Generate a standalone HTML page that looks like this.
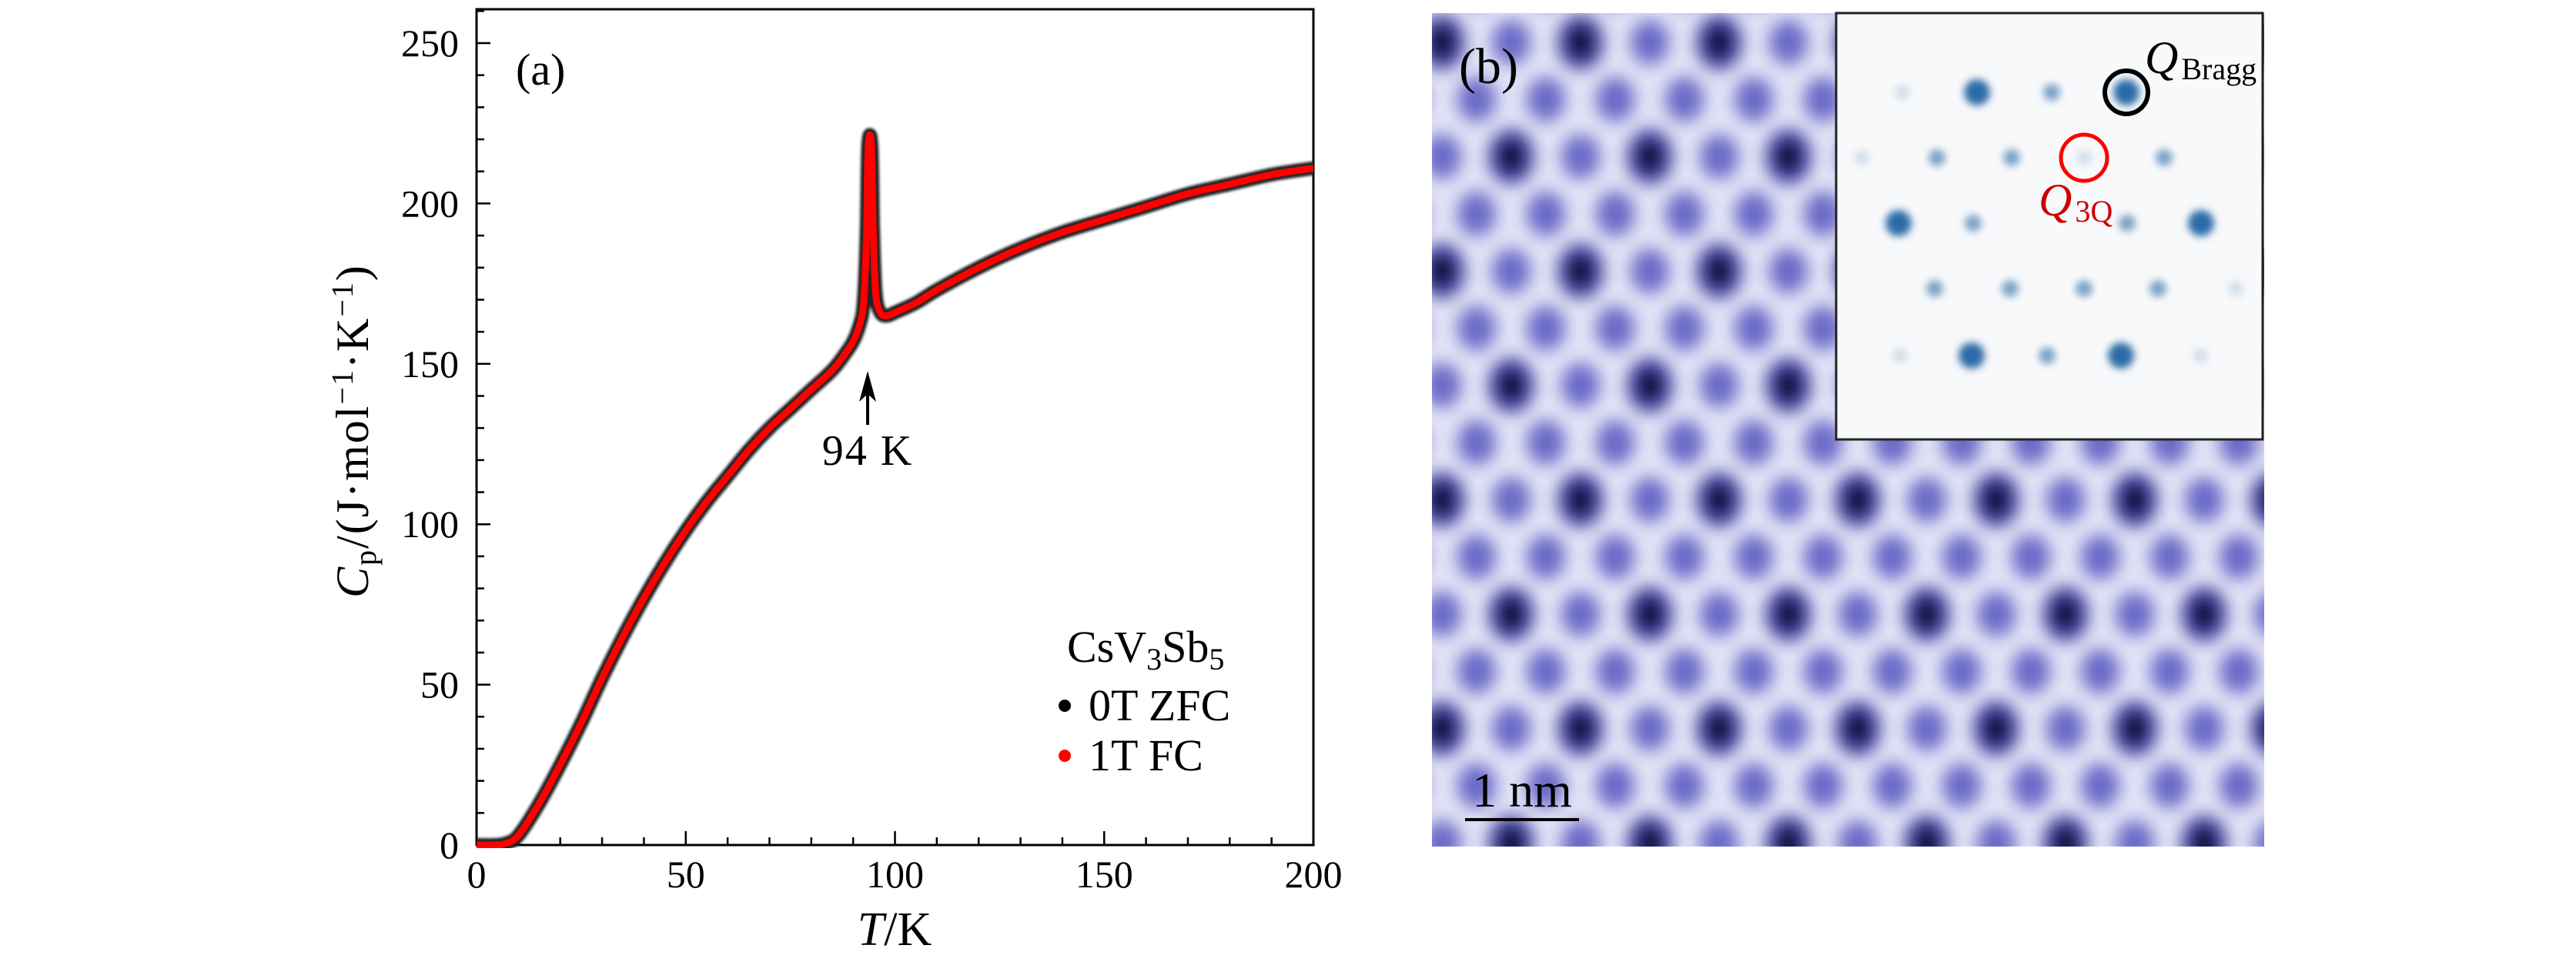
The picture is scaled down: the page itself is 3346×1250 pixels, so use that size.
<!DOCTYPE html>
<html><head><meta charset="utf-8"><style>
html,body{margin:0;padding:0;background:#fff;}
svg{display:block;font-family:"Liberation Serif",serif;}
</style></head><body>
<svg id="fig" width="3346" height="1250" viewBox="0 0 3346 1250" xmlns="http://www.w3.org/2000/svg">
<defs>
<filter id="blur" x="-10%" y="-10%" width="120%" height="120%"><feGaussianBlur stdDeviation="11"/></filter>
<filter id="blur2" x="-50%" y="-50%" width="200%" height="200%"><feGaussianBlur stdDeviation="5"/></filter>
<filter id="soft" x="-5%" y="-5%" width="110%" height="110%"><feGaussianBlur stdDeviation="1.5"/></filter>
<clipPath id="stmclip"><rect x="1860" y="17" width="1081" height="1083"/></clipPath>
<clipPath id="plotclip"><rect x="619" y="12" width="1087" height="1090"/></clipPath>
</defs>
<g id="panelA">
  <rect x="619" y="12" width="1087" height="1086" fill="none" stroke="#000" stroke-width="3"/>
  <g id="ticks"></g>
  <g id="curve" clip-path="url(#plotclip)"></g>
  <text x="670" y="110" font-size="58">(a)</text>
  <g>
    <line x1="1127" y1="552" x2="1127" y2="500" stroke="#000" stroke-width="4"/>
    <polygon points="1127,482 1116,522 1127,512 1138,522" fill="#000"/>
  </g>
  <text x="1127" y="604" font-size="56" text-anchor="middle" letter-spacing="2">94 K</text>
  <text x="1386" y="860" font-size="58">CsV<tspan font-size="40" dy="10">3</tspan><tspan dy="-10">Sb</tspan><tspan font-size="40" dy="10">5</tspan></text>
  <circle cx="1383" cy="917" r="8" fill="#000"/>
  <text x="1414" y="936" font-size="58">0T ZFC</text>
  <circle cx="1383" cy="982" r="8" fill="#f00"/>
  <text x="1414" y="1001" font-size="58">1T FC</text>
  <text x="1162" y="1228" font-size="62" text-anchor="middle"><tspan font-style="italic">T</tspan>/K</text>
  <text transform="translate(478,560) rotate(-90)" font-size="60" text-anchor="middle" letter-spacing="2"><tspan font-style="italic">C</tspan><tspan font-size="40" dy="10">p</tspan><tspan dy="-10">/(J·mol</tspan><tspan font-size="40" dy="-20">−1</tspan><tspan dy="20">·K</tspan><tspan font-size="40" dy="-20">−1</tspan><tspan dy="20">)</tspan></text>
</g>
<g id="panelB">
  <g clip-path="url(#stmclip)">
    <rect x="1860" y="17" width="1081" height="1083" fill="#e2e2f6"/>
    <g id="atoms" filter="url(#blur)"></g>
  </g>
  <text x="1895" y="108" font-size="66">(b)</text>
  <line x1="1903" y1="1065" x2="2051" y2="1065" stroke="#000" stroke-width="4"/>
  <text x="1977" y="1048" font-size="64" text-anchor="middle">1 nm</text>
  <g>
    <rect x="2385" y="17" width="554" height="554" fill="#f8f9fb" stroke="#222" stroke-width="3"/>
    <g id="spots" filter="url(#blur2)"></g>
    <circle cx="2762" cy="120" r="28" fill="none" stroke="#000" stroke-width="6"/>
    <circle cx="2707" cy="205" r="30" fill="none" stroke="#f00" stroke-width="5"/>
    <text x="2786" y="95" font-size="60" font-style="italic">Q<tspan font-style="normal" font-size="40" dx="4" dy="8">Bragg</tspan></text>
    <text x="2648" y="280" font-size="60" font-style="italic" fill="#c00">Q<tspan font-style="normal" font-size="40" dx="4" dy="8">3Q</tspan></text>
  </g>
</g>
</svg>
<script>
const NS="http://www.w3.org/2000/svg";
const temps=[0,4,7,10,15,20,25,30,35,40,45,50,55,60,65,70,75,80,85,88,90,91.5,92.5,93.2,93.6,94.4,94.8,95.4,96.5,98,100,105,110,120,130,140,150,160,170,180,190,200];
const cp=[0,0,0.5,3,13,25,38,52,65,77,88,98,107,115,123,130,136,142,148,153,157,162,169,190,218,218,192,172,166,165,166,169,173,180,186,191,195,199,203,206,209,211];
const yTickVals=[0,50,100,150,200,250];
const xTickVals=[0,50,100,150,200];
const X0=619,X1=1706,Y0=1098,Y250=56;
const xs=t=>X0+(t/200)*(X1-X0);
const ys=v=>Y0-(v/250)*(Y0-Y250);
function mk(tag,attrs,parent){const e=document.createElementNS(NS,tag);for(const k in attrs)e.setAttribute(k,attrs[k]);parent.appendChild(e);return e;}
const tg=document.getElementById('ticks');
for(let v=0;v<=260;v+=10){const major=v%50===0;const l=mk('line',{x1:X0,x2:X0+(major?18:10),y1:ys(v),y2:ys(v),stroke:'#000','stroke-width':2.5},tg);

}
for(let t=0;t<=200;t+=10){const major=t%50===0;const l=mk('line',{x1:xs(t),x2:xs(t),y1:Y0,y2:Y0-(major?18:10),stroke:'#000','stroke-width':2.5},tg);

}
yTickVals.forEach(v=>{const t=mk('text',{x:596,y:ys(v)+17,'font-size':50,'text-anchor':'end'},tg);t.textContent=v;

});
xTickVals.forEach(v=>{const t=mk('text',{x:xs(v),y:1153,'font-size':50,'text-anchor':'middle'},tg);t.textContent=v;

});
const cg=document.getElementById('curve');
const P=temps.map((t,i)=>[xs(t),ys(cp[i])]);
let d='M'+P[0][0].toFixed(1)+','+P[0][1].toFixed(1);
for(let i=0;i<P.length-1;i++){const p0=P[Math.max(i-1,0)],p1=P[i],p2=P[i+1],p3=P[Math.min(i+2,P.length-1)];
 const c1=[p1[0]+(p2[0]-p0[0])/6,p1[1]+(p2[1]-p0[1])/6],c2=[p2[0]-(p3[0]-p1[0])/6,p2[1]-(p3[1]-p1[1])/6];
 d+=` C${c1[0].toFixed(1)},${c1[1].toFixed(1)} ${c2[0].toFixed(1)},${c2[1].toFixed(1)} ${p2[0].toFixed(1)},${p2[1].toFixed(1)}`;}
const p0=mk('path',{d:d,fill:'none',stroke:'#222','stroke-width':18,'stroke-linejoin':'round','stroke-linecap':'round',filter:'url(#soft)'},cg);


const p1=mk('path',{d:d,fill:'none',stroke:'#f00','stroke-width':9,'stroke-linejoin':'round','stroke-linecap':'round'},cg);


// STM lattice
const ag=document.getElementById('atoms');
for(let k=-1;k<=15;k++){const y=55+74.3*k;const off=((k%2)+2)%2?45:0;
 for(let j=-1;j<=13;j++){const x=1873+off+90*j;
  const m4=((k%4)+4)%4;
  const dark=(m4===0&&((j%2)+2)%2===0)||(m4===2&&((j%2)+2)%2===1);
  if(dark){mk('ellipse',{cx:x,cy:y,rx:30,ry:36,fill:'#4545a8'},ag);mk('ellipse',{cx:x,cy:y,rx:17,ry:22,fill:'#05051a'},ag);}
  else{mk('ellipse',{cx:x,cy:y,rx:25,ry:29,fill:'#6a6ac8'},ag);}
 }}
// FFT spots
const sg=document.getElementById('spots');
const big=[[2568,120],[2762,120],[2466,290],[2859,290],[2561,462],[2755,462]];
const small=[[2665,120],[2516,205],[2613,205],[2811,205],[2563,290],[2763,290],[2513,375],[2611,375],[2707,375],[2803,375],[2659,462]];
const faint=[[2471,120],[2419,205],[2707,205],[2904,375],[2858,462],[2468,462]];
big.forEach(p=>mk('circle',{cx:p[0],cy:p[1],r:17,fill:'#2a6aa6'},sg));
small.forEach(p=>mk('circle',{cx:p[0],cy:p[1],r:11,fill:'#7aa2c6'},sg));
faint.forEach(p=>mk('circle',{cx:p[0],cy:p[1],r:10,fill:'#d2dfea'},sg));
</script>
</body></html>
